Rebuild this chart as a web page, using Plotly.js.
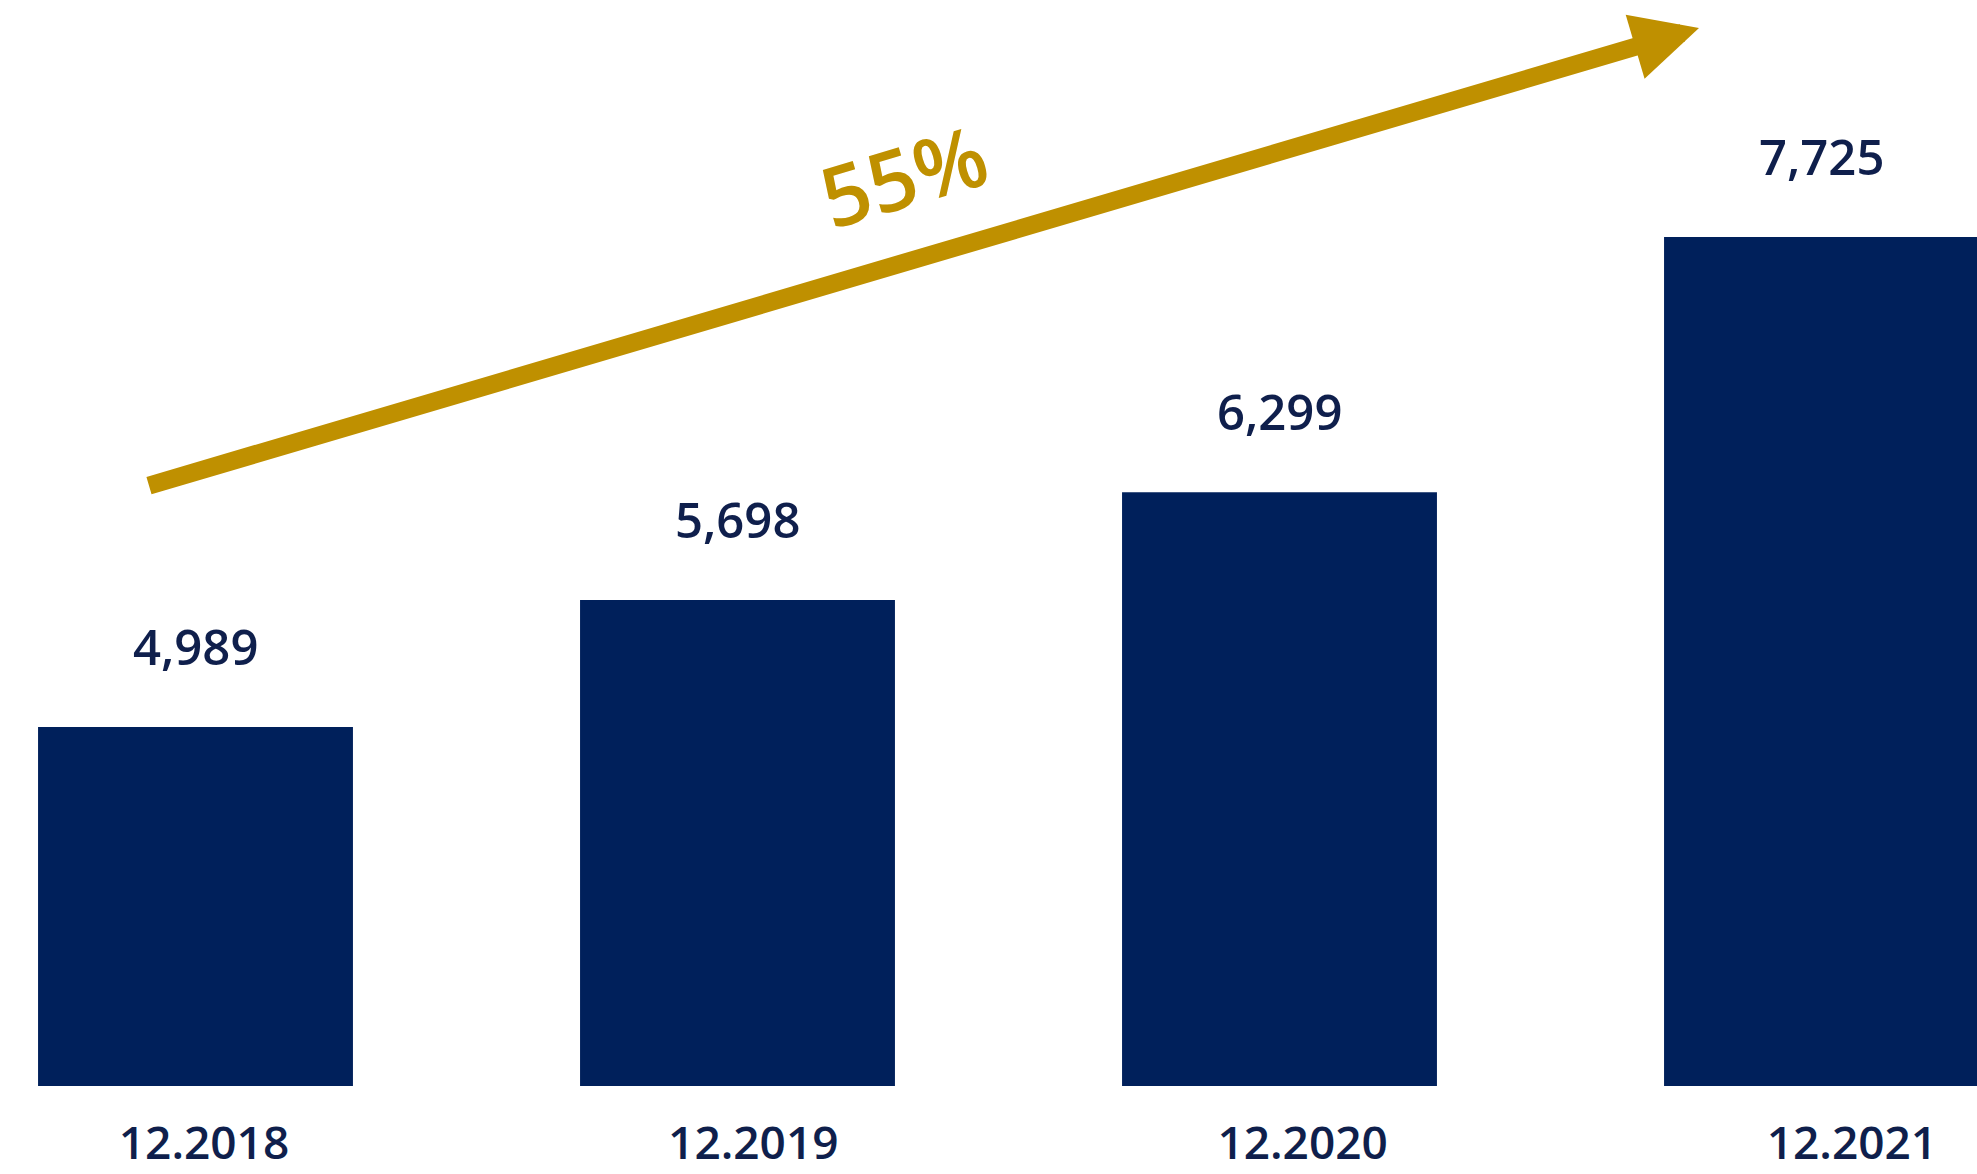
<!DOCTYPE html>
<html>
<head>
<meta charset="utf-8">
<script src="https://cdn.plot.ly/plotly-3.0.1.min.js"></script>
<style>
  html, body { margin: 0; padding: 0; background: #ffffff; }
  #chart { width: 1977px; height: 1174px; }
</style>
</head>
<body>
<div id="chart"></div>
<script>
// ---- data ----
const categories = ["12.2018", "12.2019", "12.2020", "12.2021"];
const values = [4989, 5698, 6299, 7725];
const valueLabels = ["4,989", "5,698", "6,299", "7,725"];
const growthLabel = "55%";
// arrow endpoints in axis units (tail -> tip)
const arrowTail = { x: -0.0886, y: 6334 };
const arrowTip = { x: 2.774, y: 8892 };
const growthPos = { x: 1.307, y: 8075 };

const navy = "#00205B";
const textNavy = "#0F1F4C";
const gold = "#BF9000";
const fontFam = "Open Sans, Noto Sans, sans-serif";

const idx = categories.map((c, i) => i);

const bars = {
  type: "bar",
  x: categories,
  y: values,
  marker: { color: navy, line: { width: 0 } },
  hoverinfo: "skip",
  xaxis: "x",
  yaxis: "y"
};

// invisible trace that carries the category tick labels
const tickCarrier = {
  type: "scatter",
  mode: "markers",
  x: idx,
  y: values,
  marker: { opacity: 0, size: 1 },
  hoverinfo: "skip",
  showlegend: false,
  xaxis: "x2",
  yaxis: "y"
};

const valueAnnotations = values.map((v, i) => ({
  x: i,
  y: v,
  xref: "x",
  yref: "y",
  text: valueLabels[i],
  showarrow: false,
  xanchor: "center",
  yanchor: "bottom",
  yshift: 46,
  font: { family: fontFam, size: 49, color: textNavy, weight: 600 }
}));

const arrowAnnotation = {
  x: arrowTip.x,
  y: arrowTip.y,
  xref: "x",
  yref: "y",
  ax: arrowTail.x,
  ay: arrowTail.y,
  axref: "x",
  ayref: "y",
  text: "",
  font: { size: 1 },
  showarrow: true,
  arrowhead: 2,
  arrowsize: 0.74,
  arrowwidth: 18,
  arrowcolor: gold,
  standoff: 0,
  startstandoff: 0
};

const growthAnnotation = {
  x: growthPos.x,
  y: growthPos.y,
  xref: "x",
  yref: "y",
  text: growthLabel,
  showarrow: false,
  textangle: -16.4,
  xanchor: "center",
  yanchor: "middle",
  font: { family: fontFam, size: 84, color: gold, weight: 600 }
};

const layout = {
  width: 1977,
  height: 1174,
  margin: { l: 0, r: 0, t: 0, b: 88, pad: 0 },
  paper_bgcolor: "#ffffff",
  plot_bgcolor: "#ffffff",
  showlegend: false,
  bargap: 0.419,
  xaxis: {
    type: "category",
    range: [-0.3607, 3.2869],
    showticklabels: false,
    showgrid: false,
    zeroline: false,
    showline: false,
    ticks: "",
    fixedrange: true
  },
  xaxis2: {
    type: "linear",
    overlaying: "x",
    anchor: "y",
    side: "bottom",
    range: [-0.3714, 3.2277],
    tickmode: "array",
    tickvals: idx,
    ticktext: categories,
    showgrid: false,
    zeroline: false,
    showline: false,
    ticks: "",
    ticklabelstandoff: 26,
    tickfont: { family: fontFam, size: 46, color: textNavy, weight: 600 },
    fixedrange: true
  },
  yaxis: {
    range: [2984, 9048],
    showticklabels: false,
    showgrid: false,
    zeroline: false,
    showline: false,
    ticks: "",
    fixedrange: true
  },
  annotations: [arrowAnnotation, growthAnnotation].concat(valueAnnotations)
};

Plotly.newPlot("chart", [bars, tickCarrier], layout, { staticPlot: true, displayModeBar: false });
</script>
</body>
</html>
